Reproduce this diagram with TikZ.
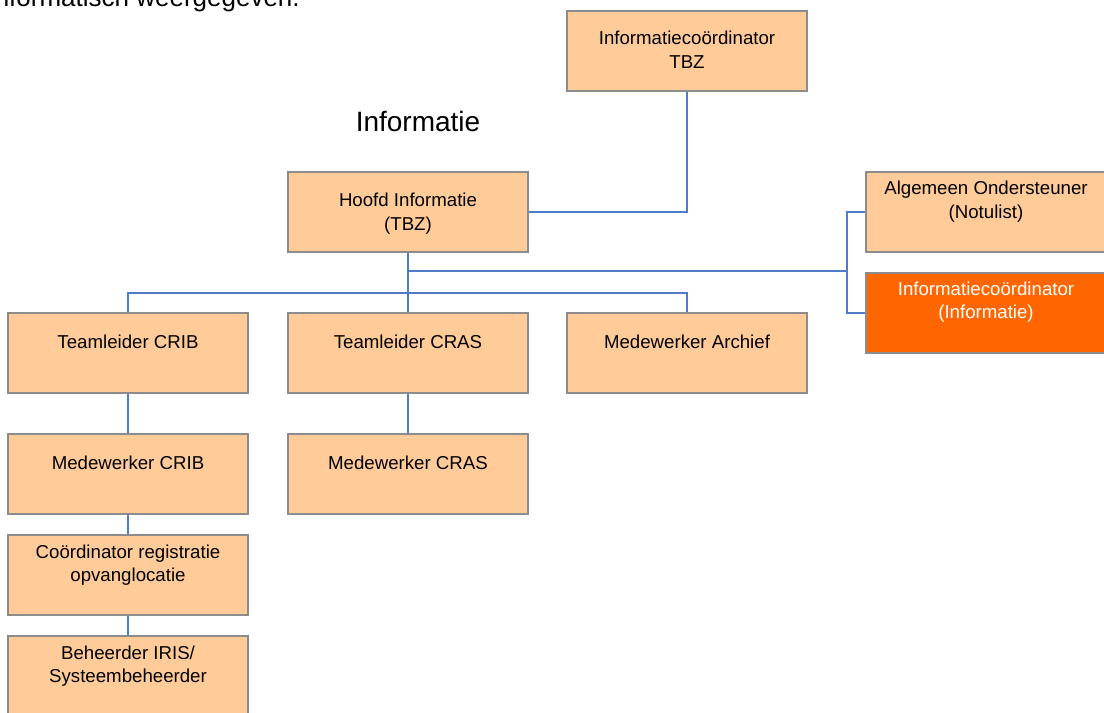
\documentclass[tikz,border=0pt]{standalone}
\usepackage{fontspec}
\setmainfont{Liberation Sans}
\definecolor{peach}{HTML}{FFCC99}
\definecolor{boxline}{HTML}{8C8C8C}
\definecolor{linkblue}{HTML}{4F7CC9}
\definecolor{hot}{HTML}{FF6600}
\begin{document}
\begin{tikzpicture}[x=0.75pt,y=-0.75pt,
  box/.style={draw=boxline,line width=1.5pt,fill=peach,minimum width=180pt,minimum height=60pt,inner sep=0pt},
  boxtext/.style={font=\fontsize{14}{17.8}\selectfont,align=center,anchor=north,inner sep=0pt},
  link/.style={draw=linkblue,line width=1.5pt}]
\useasboundingbox (0,0) rectangle (1104,713);
\node[anchor=base east,inner sep=0pt,font=\fontsize{19.5}{23}\selectfont] (top) at (300,7) {informatisch weergegeven.};
\node[anchor=center,inner sep=0pt,font=\fontsize{21}{25}\selectfont] (title) at (418,121) {Informatie};
% boxes
\node[box] (ictbz) at (687,51) {};
\node[box] (hoofd) at (408,212) {};
\node[box] (alg) at (986,212) {};
\node[box,fill=hot] (icinf) at (986,313) {};
\node[box] (tlcrib) at (128,353) {};
\node[box] (tlcras) at (408,353) {};
\node[box] (mwarch) at (687,353) {};
\node[box] (mwcrib) at (128,474) {};
\node[box] (mwcras) at (408,474) {};
\node[box] (coord) at (128,575) {};
\node[box] (beh) at (128,676) {};
% texts
\node[boxtext] at ([yshift=-15.5pt]ictbz.north) {Informatiecoördinator\\TBZ};
\node[boxtext] at ([yshift=-16.5pt]hoofd.north) {Hoofd Informatie\\(TBZ)};
\node[boxtext] at ([yshift=-7.5pt]alg.north) {Algemeen Ondersteuner\\(Notulist)};
\node[boxtext,text=white] at ([yshift=-7pt]icinf.north) {Informatiecoördinator\\(Informatie)};
\node[boxtext] at ([yshift=-16.8pt]tlcrib.north) {Teamleider CRIB};
\node[boxtext] at ([yshift=-16.8pt]tlcras.north) {Teamleider CRAS};
\node[boxtext] at ([yshift=-16.8pt]mwarch.north) {Medewerker Archief};
\node[boxtext] at ([yshift=-16.8pt]mwcrib.north) {Medewerker CRIB};
\node[boxtext] at ([yshift=-16.8pt]mwcras.north) {Medewerker CRAS};
\node[boxtext] at ([yshift=-7.8pt]coord.north) {Coördinator registratie\\opvanglocatie};
\node[boxtext] at ([yshift=-7.8pt]beh.north) {Beheerder IRIS/\\Systeembeheerder};
% connectors
\coordinate (busY) at (0,293);
\coordinate (staffY) at (0,271);
\coordinate (staffX) at (847,0);
\draw[link] (ictbz.south) |- (hoofd.east);
\draw[link] (hoofd.south) -- (tlcras.north);
\draw[link] (tlcrib.north) |- (busY -| hoofd.south);
\draw[link] (mwarch.north) |- (busY -| hoofd.south);
\draw[link] (hoofd.south |- staffY) -- (staffX |- staffY);
\draw[link] (alg.west) -| (staffX |- staffY);
\draw[link] (icinf.west) -| (staffX |- staffY);
\draw[link] (tlcrib.south) -- (mwcrib.north);
\draw[link] (tlcras.south) -- (mwcras.north);
\draw[link] (mwcrib.south) -- (coord.north);
\draw[link] (coord.south) -- (beh.north);
\end{tikzpicture}
\end{document}
